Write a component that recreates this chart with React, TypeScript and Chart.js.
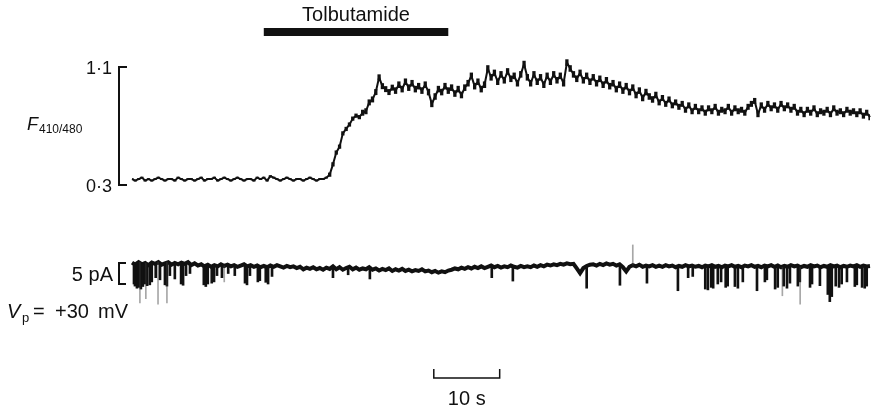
import React, { useEffect, useRef } from "react";
import { Chart, registerables } from "chart.js";

Chart.register(...registerables);

// Fluorescence ratio F410/480, sampled every 0.5 s from 0 to 112 s
const SAMPLE_STEP_S = 0.5;
const fRatio = [
  0.34, 0.33, 0.34, 0.35, 0.33, 0.34, 0.33, 0.34, 0.35, 0.34,
  0.33, 0.34, 0.34, 0.33, 0.35, 0.34, 0.33, 0.34, 0.34, 0.33,
  0.34, 0.35, 0.33, 0.34, 0.34, 0.35, 0.33, 0.34, 0.35, 0.34,
  0.33, 0.34, 0.35, 0.34, 0.33, 0.34, 0.34, 0.33, 0.35, 0.34,
  0.35, 0.33, 0.36, 0.35, 0.34, 0.33, 0.34, 0.35, 0.34, 0.33,
  0.34, 0.34, 0.33, 0.34, 0.35, 0.34, 0.33, 0.34, 0.34, 0.35,
  0.37, 0.44, 0.52, 0.56, 0.65, 0.68, 0.71, 0.75, 0.77, 0.76,
  0.79, 0.80, 0.86, 0.88, 0.93, 1.03, 0.97, 0.95, 0.93, 0.96,
  0.94, 0.98, 0.95, 1.00, 0.96, 0.99, 0.95, 0.97, 0.94, 0.98,
  0.93, 0.85, 0.90, 0.95, 0.93, 0.97, 0.94, 0.96, 0.92, 0.95,
  0.91, 0.96, 0.99, 1.04, 0.97, 1.00, 0.95, 0.98, 1.09, 1.03,
  1.06, 1.00, 1.05, 1.01, 1.07, 1.02, 1.04, 0.99, 1.05, 1.12,
  1.03, 0.99, 1.05, 1.00, 1.03, 0.98, 1.04, 1.00, 1.05, 1.01,
  1.04, 0.99, 1.13, 1.09, 1.05, 1.02, 1.06, 1.01, 1.04, 1.00,
  1.03, 0.99, 1.02, 0.98, 1.01, 0.97, 0.99, 0.95, 0.98, 0.94,
  0.97, 0.93, 0.96, 0.91, 0.94, 0.89, 0.93, 0.90, 0.88, 0.91,
  0.86, 0.89, 0.85, 0.88, 0.84, 0.86, 0.83, 0.85, 0.81, 0.84,
  0.80, 0.83, 0.80, 0.82, 0.79, 0.82, 0.80, 0.83, 0.79, 0.81,
  0.80, 0.83, 0.79, 0.82, 0.80, 0.81, 0.79, 0.83, 0.85, 0.87,
  0.78, 0.84, 0.81, 0.85, 0.82, 0.84, 0.81, 0.85, 0.82, 0.84,
  0.81, 0.83, 0.79, 0.81, 0.78, 0.81, 0.79, 0.82, 0.78, 0.80,
  0.79, 0.81, 0.78, 0.82, 0.79, 0.80, 0.78, 0.81, 0.79, 0.80,
  0.78, 0.80, 0.77, 0.79, 0.76,
];

// Within-sample noise half-range of the ratio, one value per 5 s segment
const SEGMENT_S = 5;
const fNoiseHalfRange = [
  0.004, 0.004, 0.004, 0.004, 0.004, 0.004, 0.012, 0.018, 0.02, 0.02,
  0.02, 0.02, 0.02, 0.02, 0.02, 0.02, 0.018, 0.018, 0.018, 0.018,
  0.018, 0.018, 0.018,
];

// Patch current (pA) closed-channel level, same sampling
const currentPA = [
  0.1, -0.4, 0.2, -0.3, 0.0, -0.5, 0.1, -0.2, 0.2, -0.4,
  -0.1, 0.2, -0.4, 0.0, -0.3, 0.1, -0.2, 0.2, -0.5, -0.1,
  -0.6, -0.3, -0.8, -0.4, -0.9, -0.5, -0.8, -0.3, -0.7, -0.4,
  -0.8, -0.5, -0.9, -0.6, -0.3, -0.8, -0.5, -0.9, -0.6, -1.0,
  -0.7, -1.0, -0.6, -0.9, -0.5, -0.8, -1.1, -0.7, -1.0, -0.8,
  -1.2, -0.9, -1.5, -1.1, -1.4, -1.0, -1.5, -1.2, -1.6, -1.1,
  -1.4, -0.8, -1.5, -1.0, -1.6, -1.2, -0.9, -1.5, -1.1, -1.6,
  -1.3, -1.5, -1.0, -1.6, -1.3, -1.8, -1.4, -1.7, -1.3, -1.9,
  -1.5, -1.8, -1.4, -1.9, -1.6, -2.0, -1.7, -1.9, -1.5, -2.0,
  -1.8, -2.2, -1.9, -2.3, -2.0, -2.2, -1.8, -1.6, -1.3, -1.5,
  -1.1, -1.4, -1.0, -1.3, -0.9, -1.2, -0.8, -1.2, -0.9, -0.6,
  -1.0, -0.7, -1.1, -0.8, -1.0, -0.6, -0.9, -1.1, -0.7, -1.0,
  -0.8, -1.0, -0.6, -0.9, -0.5, -0.8, -0.4, -0.6, -0.3, -0.5,
  -0.2, -0.4, -0.1, -0.3, -0.2, -1.3, -2.4, -1.2, -0.7, -0.4,
  -0.3, -0.6, -0.2, -0.5, -0.1, -0.4, -0.2, -0.6, -0.3, -1.0,
  -2.0, -0.9, -0.5, -0.8, -0.4, -0.9, -0.6, -0.8, -0.5, -0.9,
  -0.6, -0.9, -0.5, -0.8, -0.6, -1.0, -0.7, -0.9, -0.5, -0.8,
  -0.6, -0.9, -0.7, -1.0, -0.6, -0.8, -0.5, -0.9, -0.7, -1.0,
  -0.6, -0.8, -0.5, -0.9, -0.7, -1.0, -0.6, -0.8, -0.5, -0.9,
  -0.7, -1.0, -0.6, -0.8, -0.5, -0.9, -0.6, -1.0, -0.7, -0.9,
  -0.5, -0.8, -0.6, -1.0, -0.7, -0.9, -0.5, -0.8, -0.6, -1.0,
  -0.7, -0.9, -0.5, -0.8, -0.6, -1.0, -0.7, -0.9, -0.6, -0.8,
  -0.5, -0.9, -0.6, -0.8, -0.7,
];

// Channel openings: time (s) and open-level current (pA)
const openingTimes = [
  0.3, 0.45, 0.75, 0.9, 1.05, 1.35, 1.5, 1.65, 2.0, 2.3, 2.7, 3.0, 3.6, 4.25,
  5.0, 5.3, 5.75, 6.5, 7.45, 7.75, 8.2, 8.8, 10.9, 11.2, 11.5, 12.1, 12.45,
  12.9, 13.65, 14.6, 15.6, 17.15, 17.45, 17.9, 19.1, 19.4, 20.3, 20.65, 21.25,
  30.5, 32.8, 36.1, 54.6, 57.8, 69.0, 74.05, 78.15, 82.85, 84.4, 85.1,
  87.0, 87.4, 87.9, 88.2, 88.9, 89.4, 90.1, 90.4, 91.5, 91.95, 92.7, 94.85,
  96.05, 96.35, 97.6, 98.0, 98.9, 99.4, 99.85, 101.05, 101.35, 102.9, 103.2,
  104.4, 105.6, 105.9, 106.2, 106.8, 107.3, 107.7, 108.5, 109.7, 110.0, 110.8,
  111.2, 111.5,
];
const openingLevels = [
  -5.0, -5.5, -6.0, -5.4, -5.8, -6.2, -5.0, -5.6, -5.0, -5.4, -5.2, -4.5, -3.5,
  -4.0, -5.2, -5.5, -3.0, -3.8, -5.0, -5.3, -3.0, -2.5, -5.2, -5.6, -5.0, -4.8,
  -4.5, -3.0, -3.5, -2.5, -3.0, -4.8, -5.2, -3.0, -4.5, -4.2, -4.6, -5.0, -3.2,
  -3.5, -2.8, -3.8, -3.5, -4.3, -6.0, -5.3, -4.8, -6.6, -3.5, -3.2,
  -6.2, -6.4, -5.8, -6.0, -5.0, -4.5, -5.8, -5.5, -5.6, -6.0, -4.5, -6.6,
  -4.5, -4.0, -6.2, -5.8, -5.5, -6.0, -4.8, -5.5, -4.5, -5.8, -5.0,
  -5.4, -7.5, -9.2, -8.0, -5.5, -5.8, -5.0, -4.5, -5.6, -5.2, -5.8,
  -6.0, -5.5,
];

// Brief, faintly resolved events (s, pA)
const faintTimes = [1.2, 2.1, 3.95, 5.3, 14.0, 76.0, 98.7, 101.4];
const faintLevels = [-9.5, -8.5, -9.8, -9.5, -4.5, 4.3, -7.8, -9.8];

// Annotations
const tolbutamideOn = 20;
const tolbutamideOff = 48;
const timeBarStart = 45.8;
const timeBarSeconds = 10;
const fTickValues = [0.3, 1.1];
const fTickLabels = ["0·3", "1·1"];
const currentBarPA = [0, -5];
const T_MAX = 112;

// Page layout (px)
const W = 871;
const H = 408;
const PLOT_LEFT = 132;
const PLOT_RIGHT = 870;
const F_TOP_PX = 67;
const F_BOTTOM_PX = 185;
const I_ZERO_PX = 263;
const I_PX_PER_PA = 4.2;
const INK = "#111";
const FONT = '"Liberation Sans", Arial, Helvetica, sans-serif';

const fPxPerUnit = (F_BOTTOM_PX - F_TOP_PX) / (fTickValues[1] - fTickValues[0]);
const fMax = fTickValues[1] + F_TOP_PX / fPxPerUnit;
const fMin = fMax - H / fPxPerUnit;
const iMax = I_ZERO_PX / I_PX_PER_PA;
const iMin = iMax - H / I_PX_PER_PA;

const levelAt = (t: number) => currentPA[Math.min(currentPA.length - 1, Math.round(t / SAMPLE_STEP_S))];
const noiseAt = (t: number) => fNoiseHalfRange[Math.min(fNoiseHalfRange.length - 1, Math.floor(t / SEGMENT_S))];

const annotations = {
  id: "figureAnnotations",
  afterDraw(chart: any) {
    const ctx = chart.ctx as CanvasRenderingContext2D;
    const x = chart.scales.x;
    const yF = chart.scales.yF;
    const yI = chart.scales.yI;
    ctx.save();
    ctx.fillStyle = INK;
    ctx.strokeStyle = INK;
    ctx.lineCap = "butt";

    // Drug application bar
    const d0 = x.getPixelForValue(tolbutamideOn);
    const d1 = x.getPixelForValue(tolbutamideOff);
    ctx.fillRect(d0, 28, d1 - d0, 8);
    ctx.font = `20px ${FONT}`;
    ctx.textAlign = "center";
    ctx.textBaseline = "alphabetic";
    ctx.fillText("Tolbutamide", (d0 + d1) / 2, 21);

    // Fluorescence ratio bracket
    const yLo = yF.getPixelForValue(fTickValues[0]);
    const yHi = yF.getPixelForValue(fTickValues[1]);
    ctx.lineWidth = 2;
    ctx.beginPath();
    ctx.moveTo(127, yHi);
    ctx.lineTo(119, yHi);
    ctx.lineTo(119, yLo);
    ctx.lineTo(127, yLo);
    ctx.stroke();
    ctx.font = `18px ${FONT}`;
    ctx.textAlign = "right";
    fTickValues.forEach((v, i) => {
      ctx.fillText(fTickLabels[i], 112, yF.getPixelForValue(v) + 6.5);
    });
    ctx.textAlign = "left";
    ctx.font = `italic 18px ${FONT}`;
    ctx.fillText("F", 27, 130);
    ctx.font = `12px ${FONT}`;
    ctx.fillText("410/480", 39, 133);

    // Current bracket
    const c0 = yI.getPixelForValue(currentBarPA[0]);
    const c1 = yI.getPixelForValue(currentBarPA[1]);
    ctx.lineWidth = 2;
    ctx.beginPath();
    ctx.moveTo(126, c0);
    ctx.lineTo(119, c0);
    ctx.lineTo(119, c1);
    ctx.lineTo(126, c1);
    ctx.stroke();
    ctx.font = `20px ${FONT}`;
    ctx.textAlign = "right";
    ctx.fillText(`${Math.abs(currentBarPA[1] - currentBarPA[0])} pA`, 113, (c0 + c1) / 2 + 7);

    // Pipette potential
    ctx.textAlign = "left";
    ctx.font = `italic 20px ${FONT}`;
    ctx.fillText("V", 7, 318);
    ctx.font = `13px ${FONT}`;
    ctx.fillText("p", 22, 322);
    ctx.font = `20px ${FONT}`;
    ctx.fillText("=", 33, 318);
    ctx.fillText("+30", 55, 318);
    ctx.fillText("mV", 98, 318);

    // Time scale bar
    const s0 = x.getPixelForValue(timeBarStart);
    const s1 = x.getPixelForValue(timeBarStart + timeBarSeconds);
    ctx.lineWidth = 1.5;
    ctx.beginPath();
    ctx.moveTo(s0, 369);
    ctx.lineTo(s0, 378);
    ctx.lineTo(s1, 378);
    ctx.lineTo(s1, 369);
    ctx.stroke();
    ctx.textAlign = "center";
    ctx.fillText(`${timeBarSeconds} s`, (s0 + s1) / 2, 405);
    ctx.restore();
  },
};

export default function App() {
  const canvasRef = useRef<HTMLCanvasElement | null>(null);

  useEffect(() => {
    const canvas = canvasRef.current;
    if (!canvas) return;
    const fPoints = fRatio.map((v, i) => ({ x: i * SAMPLE_STEP_S, y: v }));
    const fRange = fRatio.map((v, i) => {
      const t = i * SAMPLE_STEP_S;
      const s = noiseAt(t);
      return { x: t, y: [v - s, v + s] };
    });
    const iPoints = currentPA.map((v, i) => ({ x: i * SAMPLE_STEP_S, y: v }));
    const openings = openingTimes.map((t, i) => ({ x: t, y: [openingLevels[i], levelAt(t)] }));
    const faint = faintTimes.map((t, i) => ({ x: t, y: [faintLevels[i], levelAt(t)] }));
    const binPx = ((PLOT_RIGHT - PLOT_LEFT) * SAMPLE_STEP_S) / T_MAX;

    const chart = new Chart(canvas, {
      type: "line",
      data: {
        datasets: [
          {
            type: "bar",
            data: faint as any,
            yAxisID: "yI",
            backgroundColor: "rgba(60,60,60,0.45)",
            barThickness: 1,
            grouped: false,
          } as any,
          {
            type: "bar",
            data: openings as any,
            yAxisID: "yI",
            backgroundColor: INK,
            barThickness: 2,
            grouped: false,
          } as any,
          {
            type: "line",
            data: iPoints,
            yAxisID: "yI",
            borderColor: INK,
            borderWidth: 4,
            pointRadius: 0,
            tension: 0,
            clip: false,
          } as any,
          {
            type: "bar",
            data: fRange as any,
            yAxisID: "yF",
            backgroundColor: INK,
            barThickness: binPx * 0.8,
            grouped: false,
          } as any,
          {
            type: "line",
            data: fPoints,
            yAxisID: "yF",
            borderColor: INK,
            borderWidth: 2,
            borderJoinStyle: "round",
            pointRadius: 0,
            tension: 0,
            clip: false,
          } as any,
        ],
      },
      options: {
        animation: false,
        responsive: false,
        devicePixelRatio: 1,
        events: [],
        layout: { padding: { left: PLOT_LEFT, right: W - PLOT_RIGHT, top: 0, bottom: 0 } },
        plugins: { legend: { display: false }, tooltip: { enabled: false } },
        scales: {
          x: { type: "linear", min: 0, max: T_MAX, display: false, offset: false },
          yF: { type: "linear", min: fMin, max: fMax, display: false },
          yI: { type: "linear", min: iMin, max: iMax, display: false },
        },
      },
      plugins: [annotations],
    });
    return () => chart.destroy();
  }, []);

  return (
    <div style={{ position: "fixed", left: 0, top: 0, width: W, height: H, background: "#fff" }}>
      <canvas ref={canvasRef} width={W} height={H} style={{ width: W, height: H, display: "block" }} />
    </div>
  );
}
